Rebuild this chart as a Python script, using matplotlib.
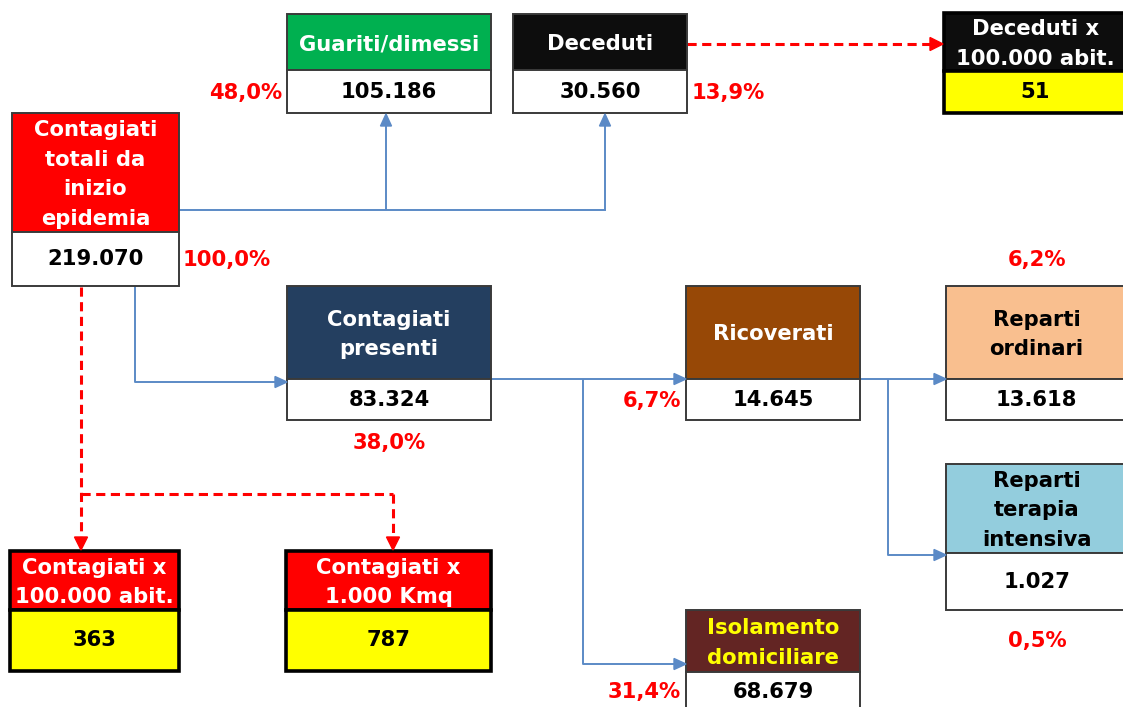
import matplotlib
matplotlib.use("Agg")
import matplotlib.pyplot as plt
from matplotlib.patches import Rectangle, Polygon

# ---------------- data ----------------
headers = ["Contagiati\ntotali da\ninizio\nepidemia", "Guariti/dimessi", "Deceduti",
           "Deceduti x\n100.000 abit.", "Contagiati\npresenti", "Ricoverati",
           "Reparti\nordinari", "Reparti\nterapia\nintensiva", "Isolamento\ndomiciliare",
           "Contagiati x\n100.000 abit.", "Contagiati x\n1.000 Kmq"]
counts = [219070, 105186, 30560, 51, 83324, 14645, 13618, 1027, 68679, 363, 787]
percents = [100.0, 48.0, 13.9, None, 38.0, 6.7, 6.2, 0.5, 31.4, None, None]

# ---------------- styles / layout ----------------
head_colors = ["#FF0000", "#00B050", "#0D0D0D", "#0D0D0D", "#243F60", "#974806",
               "#F9BF8F", "#93CDDD", "#632523", "#FF0000", "#FF0000"]
text_colors = ["white", "white", "white", "white", "white", "white",
               "black", "black", "#FFFF00", "white", "white"]
value_bg = ["white"] * 9 + ["#FFFF00", "#FFFF00"]
value_bg[3] = "#FFFF00"
thick = [False, False, False, True, False, False, False, False, False, True, True]
# x0, x1, y_top, y_div, y_bottom (pixels, y down)
boxes = [(12, 179, 113, 232, 286), (287, 491, 14, 70, 113), (513, 687, 14, 70, 113),
         (944, 1127, 13, 71, 113), (287, 491, 286, 379, 420), (686, 860, 286, 379, 420),
         (946, 1127, 286, 379, 420), (946, 1127, 464, 553, 610), (686, 860, 610, 672, 730),
         (10, 179, 551, 610, 671), (286, 491, 551, 610, 671)]
value_y = [None] * 11
value_y[8] = 692
pct_pos = [(183, 260, "left"), (282, 93, "right"), (692, 93, "left"), None,
           (389, 443, "center"), (681, 401, "right"), (1037, 260, "center"),
           (1037, 641, "center"), (681, 692, "right"), None, None]

FONT = "DejaVu Sans"
FS = 15.2
BLUE = "#5B8AC6"
RED = "#FF0000"


def fmt_int(n):
    return f"{n:,}".replace(",", ".")


def fmt_pct(p):
    return f"{p:.1f}%".replace(".", ",")


fig = plt.figure(figsize=(11.23, 7.07), dpi=100)
ax = fig.add_axes([0, 0, 1, 1])
ax.set_xlim(0, 1123)
ax.set_ylim(707, 0)
ax.axis("off")

for i, (x0, x1, yt, yd, yb) in enumerate(boxes):
    lw = 2.6 if thick[i] else 1.4
    ec = "black" if thick[i] else "#3A3A3A"
    ax.add_patch(Rectangle((x0, yt), x1 - x0, yd - yt, facecolor=head_colors[i],
                           edgecolor=ec, lw=lw, zorder=2))
    ax.add_patch(Rectangle((x0, yd), x1 - x0, yb - yd, facecolor=value_bg[i],
                           edgecolor=ec, lw=lw, zorder=2))
    ax.text((x0 + x1) / 2, (yt + yd) / 2 + 2, headers[i], ha="center", va="center",
            color=text_colors[i], fontsize=FS, fontweight="bold", family=FONT,
            linespacing=1.62, zorder=3)
    vy = value_y[i] if value_y[i] is not None else (yd + yb) / 2
    ax.text((x0 + x1) / 2, vy, fmt_int(counts[i]), ha="center", va="center",
            color="black", fontsize=FS, fontweight="bold", family=FONT, zorder=3)
    if percents[i] is not None:
        px, py, ha = pct_pos[i]
        ax.text(px, py, fmt_pct(percents[i]), ha=ha, va="center", color=RED,
                fontsize=FS, fontweight="bold", family=FONT, zorder=3)


def arrow_path(pts, color, lw, dashed=False, hl=12, hw=5.5):
    """Polyline whose last segment ends with a filled arrow head."""
    (xa, ya), (xb, yb) = pts[-2], pts[-1]
    dx, dy = xb - xa, yb - ya
    L = (dx ** 2 + dy ** 2) ** 0.5
    ux, uy = dx / L, dy / L
    base = (xb - ux * hl, yb - uy * hl)
    line = list(pts[:-1]) + [base]
    xs = [p[0] for p in line]
    ys = [p[1] for p in line]
    ls = (0, (3, 1.8)) if dashed else "-"
    ax.plot(xs, ys, color=color, lw=lw, linestyle=ls, solid_capstyle="butt",
            dash_capstyle="butt", zorder=1)
    px, py = -uy, ux
    tri = [(xb, yb), (base[0] + px * hw, base[1] + py * hw),
           (base[0] - px * hw, base[1] - py * hw)]
    ax.add_patch(Polygon(tri, closed=True, color=color, zorder=4))


def line(pts, color, lw, dashed=False):
    ls = (0, (3, 1.8)) if dashed else "-"
    ax.plot([p[0] for p in pts], [p[1] for p in pts], color=color, lw=lw,
            linestyle=ls, dash_capstyle="butt", zorder=1)


# blue connectors
line([(179, 210), (605, 210)], BLUE, 1.4)
arrow_path([(386, 210), (386, 114)], BLUE, 1.4)
arrow_path([(605, 210), (605, 114)], BLUE, 1.4)
arrow_path([(135, 286), (135, 382), (287, 382)], BLUE, 1.4)
arrow_path([(475, 379), (686, 379)], BLUE, 1.4)
arrow_path([(583, 379), (583, 664), (686, 664)], BLUE, 1.4)
arrow_path([(860, 379), (946, 379)], BLUE, 1.4)
arrow_path([(888, 379), (888, 555), (946, 555)], BLUE, 1.4)

# red dashed connectors
arrow_path([(687, 44), (943, 44)], RED, 2.2, dashed=True, hl=13, hw=6.5)
arrow_path([(81, 287), (81, 550)], RED, 2.2, dashed=True, hl=13, hw=6.5)
line([(81, 494), (393, 494)], RED, 2.2, dashed=True)
arrow_path([(393, 494), (393, 550)], RED, 2.2, dashed=True, hl=13, hw=6.5)

fig.savefig("out.png", dpi=100)
